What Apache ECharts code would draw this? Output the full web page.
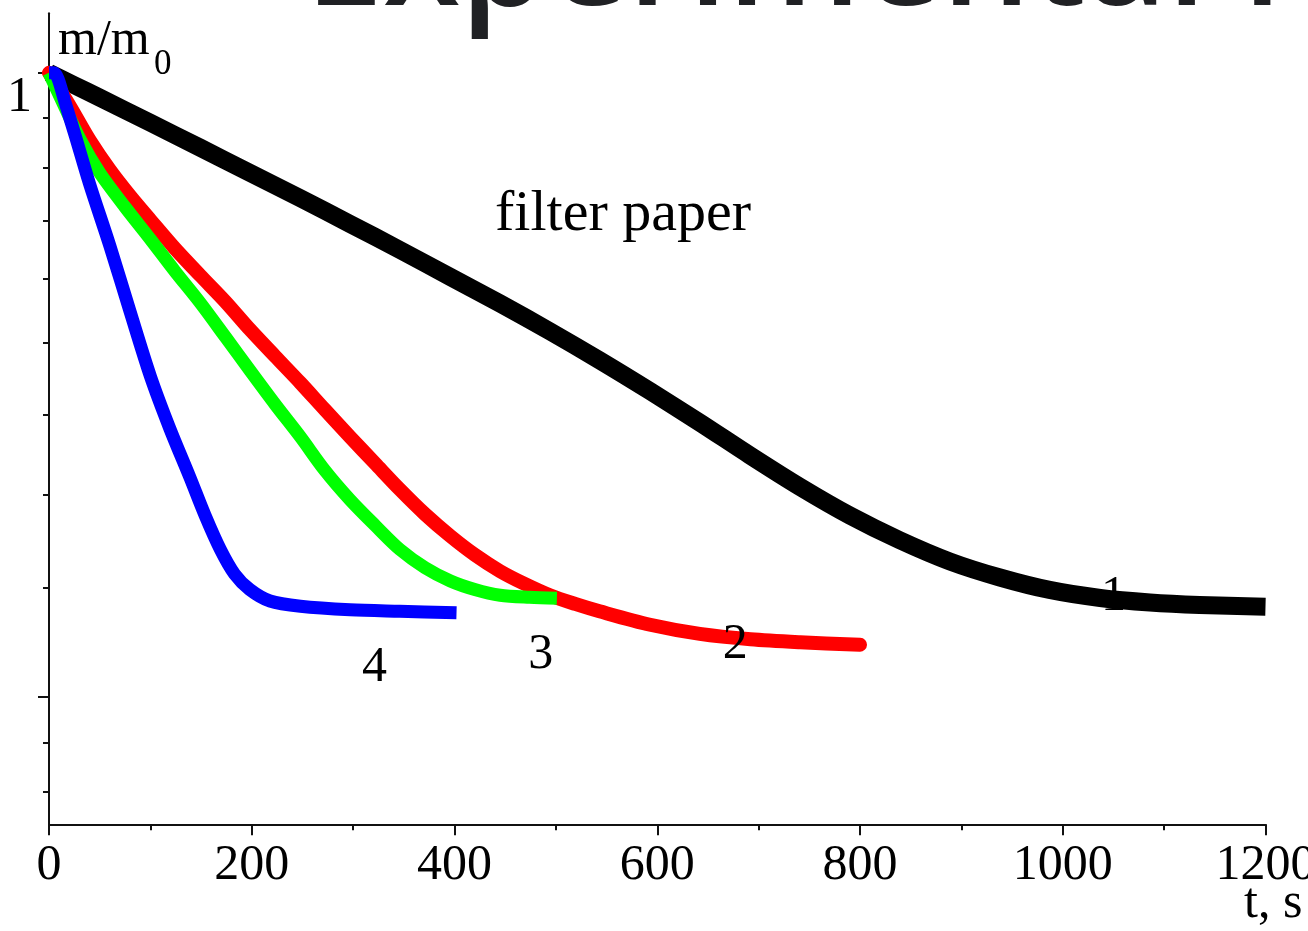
<!DOCTYPE html>
<html>
<head>
<meta charset="utf-8">
<script src="https://cdn.jsdelivr.net/npm/echarts@6/dist/echarts.min.js"></script>
<style>
  html, body { margin: 0; padding: 0; background: #ffffff; }
  #chart { width: 1308px; height: 931px; }
</style>
</head>
<body>
<div id="chart"></div>
<script>
// Drying curves: relative mass m/m0 versus time t (s), ln-scaled mass axis.

// curve 1 — filter paper
const time1 = [0, 24, 50, 100, 149, 198, 248, 297, 346, 396, 445, 494, 543, 593, 642, 691, 741, 790, 839, 889, 938, 987, 1037, 1086, 1135, 1200];
const mass1 = [1.000, 0.981, 0.961, 0.923, 0.887, 0.852, 0.818, 0.785, 0.753, 0.721, 0.691, 0.661, 0.631, 0.6005, 0.571, 0.542, 0.515, 0.492, 0.473, 0.457, 0.4455, 0.4367, 0.4311, 0.428, 0.4263, 0.4251];

// curve 2
const time2 = [0, 21, 40, 60, 80, 100, 124, 149, 174, 198, 223, 248, 272, 297, 322, 346, 371, 396, 420, 445, 469, 494, 519, 543, 593, 642, 692, 741, 800];
const mass2 = [1.000, 0.947, 0.898, 0.856, 0.821, 0.790, 0.755, 0.723, 0.693, 0.663, 0.635, 0.6085, 0.583, 0.558, 0.5345, 0.513, 0.493, 0.476, 0.462, 0.450, 0.441, 0.433, 0.427, 0.422, 0.413, 0.407, 0.4035, 0.4016, 0.400];

// curve 3
const time3 = [0, 11, 31, 50, 75, 100, 124, 149, 174, 198, 223, 248, 272, 297, 322, 346, 371, 396, 420, 445, 474, 501];
const mass3 = [1.000, 0.962, 0.898, 0.852, 0.8065, 0.766, 0.728, 0.692, 0.655, 0.621, 0.588, 0.558, 0.529, 0.5045, 0.484, 0.466, 0.4525, 0.443, 0.437, 0.433, 0.4316, 0.431];

// curve 4
const time4 = [0, 5, 9, 16, 26, 40, 60, 80, 100, 119, 139, 154, 169, 183, 198, 218, 248, 297, 346, 402];
const mass4 = [1.000, 1.000, 0.990, 0.953, 0.9035, 0.837, 0.758, 0.682, 0.615, 0.566, 0.523, 0.492, 0.466, 0.448, 0.437, 0.429, 0.4254, 0.423, 0.422, 0.421];

// axis range and tick values (in m/m0)
const massMin = 0.3;
const massMax = 1.1;
const majorTickMass = [1, Math.exp(-1)];
const minorTickMass = [];
for (let k = 1; k <= 8; k++) minorTickMass.push(1 - k * (1 - Math.exp(-1)) / 9);
for (let k = 1; k <= 2; k++) minorTickMass.push(Math.exp(-1) - k * (Math.exp(-1) - Math.exp(-2)) / 9);
const labelMass = [1];

const xTicks = { min: 0, max: 1200, step: 200 };

// curve number tags placed in data space
const curveTags = [
  { name: '1', t: 1050, m: 0.432 },
  { name: '2', t: 677, m: 0.400 },
  { name: '3', t: 485, m: 0.3936 },
  { name: '4', t: 321, m: 0.3856 }
];

const ln = Math.log;
const toPairs = (ts, ms) => ts.map((t, i) => [t, ln(ms[i])]);

const serif = 'Liberation Serif';

function curve(name, ts, ms, color, width, cap) {
  return {
    name: name,
    type: 'line',
    data: toPairs(ts, ms),
    showSymbol: false,
    smooth: 0.3,
    lineStyle: { color: color, width: width, cap: cap, join: 'round' },
    silent: true,
    animation: false
  };
}

const series = [
  curve('1', time1, mass1, '#000000', 18, 'butt'),
  curve('2', time2, mass2, '#ff0000', 14, 'round'),
  curve('3', time3, mass3, '#00ff00', 13, 'butt'),
  curve('4', time4, mass4, '#0000ff', 13, 'butt')
];

// invisible carrier series for the curve number tags
series.push({
  type: 'scatter',
  data: [],
  silent: true,
  markPoint: {
    symbol: 'circle',
    symbolSize: 0,
    animation: false,
    label: {
      show: true,
      position: 'inside',
      formatter: p => p.name,
      fontFamily: serif,
      fontSize: 50,
      color: '#000'
    },
    data: curveTags.map(c => ({ name: c.name, coord: [c.t, ln(c.m)] }))
  }
});

const chart = echarts.init(document.getElementById('chart'), null, { renderer: 'canvas' });

const axisLineStyle = { color: '#111', width: 2 };

chart.setOption({
  backgroundColor: '#ffffff',
  animation: false,
  grid: { left: 49, right: 42.5, top: 13.3, bottom: 106.7, outerBoundsMode: 'none', containLabel: false },
  xAxis: {
    type: 'value',
    min: xTicks.min,
    max: xTicks.max,
    interval: xTicks.step,
    axisLine: { show: true, onZero: false, lineStyle: axisLineStyle },
    axisTick: { show: true, length: 11, lineStyle: { color: '#111', width: 2 } },
    minorTick: { show: true, splitNumber: 2, length: 6, lineStyle: { color: '#111', width: 2 } },
    axisLabel: {
      formatter: v => String(v),
      fontFamily: serif, fontSize: 50, color: '#000', margin: 17, lineHeight: 50,
      showMaxLabel: true, showMinLabel: true
    },
    splitLine: { show: false },
    minorSplitLine: { show: false }
  },
  yAxis: [
    {
      type: 'value',
      min: ln(massMin),
      max: ln(massMax),
      axisLine: { show: true, onZero: false, lineStyle: axisLineStyle },
      axisTick: { show: true, length: 11, customValues: majorTickMass.map(ln), lineStyle: { color: '#111', width: 2 } },
      axisLabel: {
        customValues: labelMass.map(ln),
        formatter: v => String(Math.round(Math.exp(v))),
        fontFamily: serif, fontSize: 50, color: '#000', margin: 17, lineHeight: 50,
        verticalAlign: 'top'
      },
      splitLine: { show: false }
    },
    {
      type: 'value',
      position: 'left',
      min: ln(massMin),
      max: ln(massMax),
      axisLine: { show: false, onZero: false },
      axisTick: { show: true, length: 6, customValues: minorTickMass.map(ln), lineStyle: { color: '#111', width: 2 } },
      axisLabel: { show: false },
      splitLine: { show: false }
    }
  ],
  graphic: [
    {
      type: 'text', x: 305, y: -35, silent: true,
      style: { text: 'Experimental results', font: '600 140px "Open Sans"', fill: '#202124', textAlign: 'left', textVerticalAlign: 'middle' }
    },
    {
      type: 'text', x: 495, y: 215, silent: true,
      style: { text: 'filter paper', font: '58px "Liberation Serif"', fill: '#000', textAlign: 'left', textVerticalAlign: 'middle' }
    },
    {
      type: 'text', x: 58, y: 41, silent: true,
      style: { text: 'm/m', font: '50px "Liberation Serif"', fill: '#000', textAlign: 'left', textVerticalAlign: 'middle' }
    },
    {
      type: 'text', x: 154, y: 65, silent: true,
      style: { text: '0', font: '35px "Liberation Serif"', fill: '#000', textAlign: 'left', textVerticalAlign: 'middle' }
    },
    {
      type: 'text', x: 1244, y: 904, silent: true,
      style: { text: 't, s', font: '50px "Liberation Serif"', fill: '#000', textAlign: 'left', textVerticalAlign: 'middle' }
    }
  ],
  series: series
});
</script>
</body>
</html>
